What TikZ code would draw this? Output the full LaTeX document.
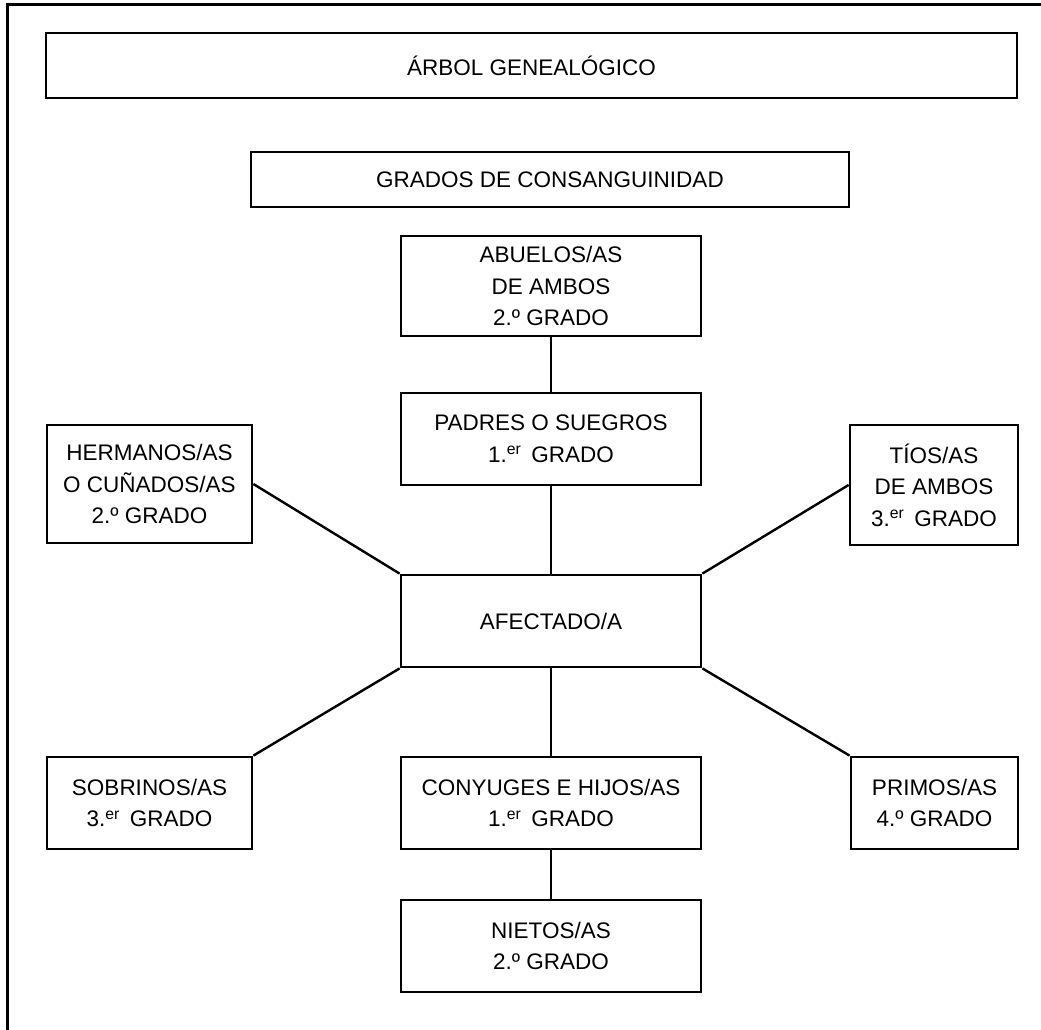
\documentclass[tikz,border=0pt]{standalone}
\usepackage{fontspec}
\setmainfont{Liberation Sans}
\newcommand{\ordgr}[1]{#1.\textsuperscript{er}\hspace{0.45em}GRADO}
\tikzset{
  famBox/.style={draw, line width=2.8pt, align=center, inner sep=0pt,
    font=\fontsize{22.5}{31.5}\selectfont},
  famLink/.style={line width=2.4pt},
}
\begin{document}
\begin{tikzpicture}[x=1pt,y=-1pt]
\useasboundingbox (0,0) rectangle (1041,1030);
% outer frame (only top and left edges visible)
\coordinate (fA) at (7,1030);
\coordinate (fB) at (7,5);
\coordinate (fC) at (1041,5);
\draw[line width=3pt] (fA) -- (fB) -- (fC);

\node[famBox, minimum width=971pt, minimum height=65pt] (title) at (531.5,65.5) {ÁRBOL GENEALÓGICO};
\node[famBox, minimum width=598pt, minimum height=55pt] (grados) at (550,179.5) {GRADOS DE CONSANGUINIDAD};
\node[famBox, minimum width=300pt, minimum height=100pt] (abuelos) at (551,286) {ABUELOS/AS\\DE AMBOS\\2.º GRADO};
\node[famBox, minimum width=300pt, minimum height=92pt] (padres) at (551,439) {PADRES O SUEGROS\\\ordgr{1}};
\node[famBox, minimum width=205pt, minimum height=118pt] (hermanos) at (149.5,484) {HERMANOS/AS\\O CUÑADOS/AS\\2.º GRADO};
\node[famBox, minimum width=168pt, minimum height=120pt] (tios) at (934,485) {TÍOS/AS\\DE AMBOS\\\ordgr{3}};
\node[famBox, minimum width=300pt, minimum height=92pt] (afectado) at (551,621) {AFECTADO/A};
\node[famBox, minimum width=205pt, minimum height=92pt] (sobrinos) at (149.5,803) {SOBRINOS/AS\\\ordgr{3}};
\node[famBox, minimum width=300pt, minimum height=92pt] (conyuges) at (551,803) {CONYUGES E HIJOS/AS\\\ordgr{1}};
\node[famBox, minimum width=167pt, minimum height=92pt] (primos) at (934.5,803) {PRIMOS/AS\\4.º GRADO};
\node[famBox, minimum width=300pt, minimum height=92pt] (nietos) at (551,946) {NIETOS/AS\\2.º GRADO};

\draw[famLink] (abuelos.south) -- (padres.north);
\draw[famLink] (padres.south) -- (afectado.north);
\draw[famLink] (hermanos.east) -- (afectado.north west);
\draw[famLink] (tios.west) -- (afectado.north east);
\draw[famLink] (sobrinos.north east) -- (afectado.south west);
\draw[famLink] (primos.north west) -- (afectado.south east);
\draw[famLink] (afectado.south) -- (conyuges.north);
\draw[famLink] (conyuges.south) -- (nietos.north);
\end{tikzpicture}
\end{document}
